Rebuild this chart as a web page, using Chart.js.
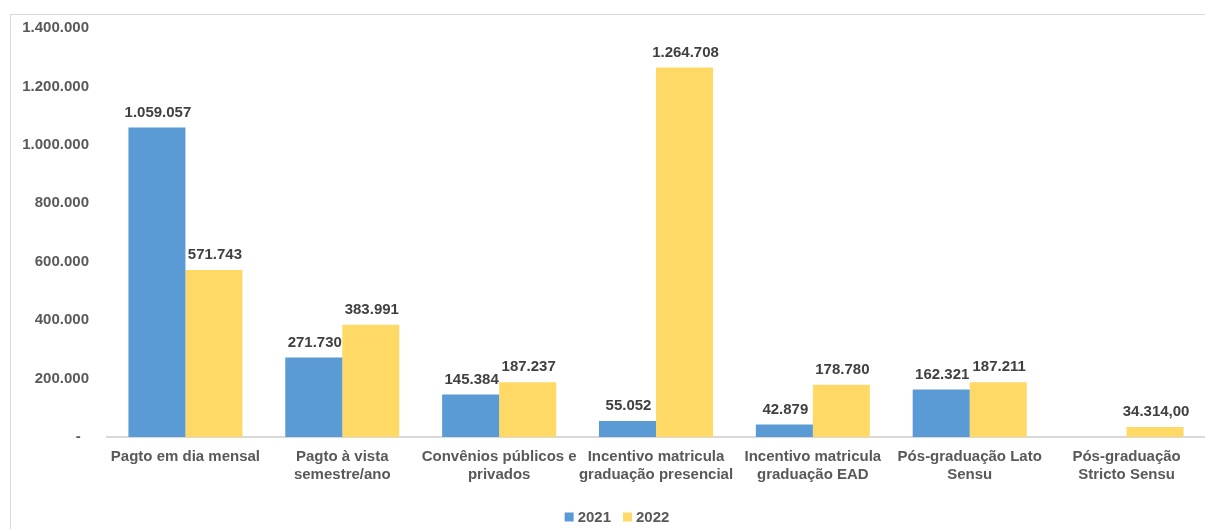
<!DOCTYPE html>
<html>
<head>
<meta charset="utf-8">
<script src="https://cdn.jsdelivr.net/npm/chart.js@4.4.1/dist/chart.umd.min.js"></script>
<style>
  html, body { margin: 0; padding: 0; background: #ffffff; }
  #wrap { position: relative; width: 1205px; height: 529px; overflow: hidden; }
  #frame { position: absolute; left: 10px; top: 14px; width: 1210px; height: 530px;
           border-left: 1px solid #d9d9d9; border-top: 1px solid #d9d9d9; box-sizing: border-box; }
  #c { position: absolute; left: 0; top: 0; }
</style>
</head>
<body>
<div id="wrap">
  <div id="frame"></div>
  <canvas id="c" width="1205" height="529"></canvas>
</div>
<script>
const categories = [
  ["Pagto em dia mensal"],
  ["Pagto à vista", "semestre/ano"],
  ["Convênios públicos e", "privados"],
  ["Incentivo matricula", "graduação presencial"],
  ["Incentivo matricula", "graduação EAD"],
  ["Pós-graduação Lato", "Sensu"],
  ["Pós-graduação", "Stricto Sensu"]
];
const values2021 = [1059057, 271730, 145384, 55052, 42879, 162321, null];
const values2022 = [571743, 383991, 187237, 1264708, 178780, 187211, 34314];
const decimals2021 = [0, 0, 0, 0, 0, 0, 0];
const decimals2022 = [0, 0, 0, 0, 0, 0, 2];
const yTicks = [0, 200000, 400000, 600000, 800000, 1000000, 1200000, 1400000];

function fmt(v, dec) {
  const neg = v < 0;
  v = Math.abs(v);
  const intPart = Math.floor(v);
  let s = String(intPart).replace(/\B(?=(\d{3})+(?!\d))/g, ".");
  if (dec > 0) {
    const frac = Math.round((v - intPart) * Math.pow(10, dec));
    s += "," + String(frac).padStart(dec, "0");
  }
  return (neg ? "-" : "") + s;
}

const FONT = "'Liberation Sans', Arial, sans-serif";

const labelPlugin = {
  id: 'barLabels',
  afterDatasetsDraw(chart) {
    const ctx = chart.ctx;
    ctx.save();
    ctx.font = "bold 15px " + FONT;
    ctx.fillStyle = "#404040";
    ctx.textAlign = "center";
    ctx.textBaseline = "middle";
    chart.data.datasets.forEach((ds, di) => {
      const meta = chart.getDatasetMeta(di);
      meta.data.forEach((bar, i) => {
        const v = ds.data[i];
        if (v === null || v === undefined) return;
        ctx.fillText(fmt(v, ds.decimals[i]), bar.x + 1, bar.y - 15);
      });
    });
    ctx.restore();
  }
};

const legendPlugin = {
  id: 'customLegend',
  afterDraw(chart) {
    const ctx = chart.ctx;
    ctx.save();
    ctx.font = "bold 15px " + FONT;
    ctx.textBaseline = "middle";
    ctx.textAlign = "left";
    const box = 9, gapText = 4, gapItem = 12;
    const items = chart.data.datasets.map(ds => ({ text: ds.label, color: ds.backgroundColor,
      w: box + gapText + ctx.measureText(ds.label).width }));
    const total = items.reduce((a, it) => a + it.w, 0) + gapItem * (items.length - 1);
    const cy = 517;
    let x = 617 - total / 2;
    items.forEach(it => {
      ctx.fillStyle = it.color;
      ctx.fillRect(x, cy - box / 2, box, box);
      ctx.fillStyle = '#595959';
      ctx.fillText(it.text, x + box + gapText, cy + 1);
      x += it.w + gapItem;
    });
    ctx.restore();
  }
};

new Chart(document.getElementById('c'), {
  type: 'bar',
  data: {
    labels: categories,
    datasets: [
      { label: '2021', data: values2021, decimals: decimals2021,
        backgroundColor: '#5B9BD5', borderWidth: 0 },
      { label: '2022', data: values2022, decimals: decimals2022,
        backgroundColor: '#FFD966', borderWidth: 0 }
    ]
  },
  options: {
    responsive: false,
    animation: false,
    devicePixelRatio: 1,
    layout: { padding: { top: 28, right: 0, bottom: 92 - 69, left: 0 } },
    datasets: { bar: { barPercentage: 1.0, categoryPercentage: 0.727 } },
    plugins: {
      tooltip: { enabled: false },
      legend: { display: false }
    },
    scales: {
      x: {
        grid: { display: false, drawTicks: false },
        border: { display: true, color: '#d9d9d9', width: 2 },
        ticks: {
          color: '#595959', padding: 11, maxRotation: 0, autoSkip: false,
          font: { family: FONT, size: 15, weight: 'bold', lineHeight: 1.2 }
        },
        afterFit(scale) { scale.height = 69; }
      },
      y: {
        min: 0, max: 1400000,
        afterBuildTicks(scale) { scale.ticks = yTicks.map(v => ({ value: v })); },
        grid: { display: false, drawTicks: false },
        border: { display: false },
        ticks: {
          color: '#595959', padding: 18,
          font: { family: FONT, size: 15, weight: 'bold' },
          callback(v) { return v === 0 ? "-  " : fmt(v, 0); }
        },
        afterFit(scale) { scale.width = 107; }
      }
    }
  },
  plugins: [labelPlugin, legendPlugin]
});
</script>
</body>
</html>
